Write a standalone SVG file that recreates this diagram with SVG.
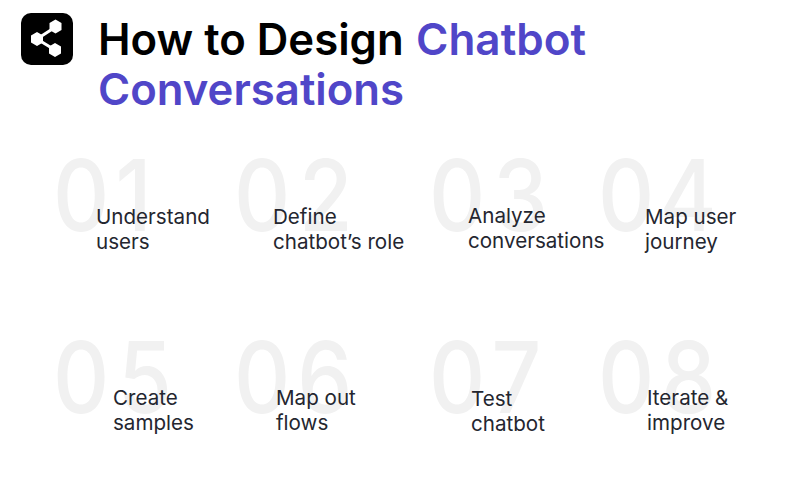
<svg xmlns="http://www.w3.org/2000/svg" width="800" height="484" viewBox="0 0 800 484">
<style>
.t{font-family:Inter,"Liberation Sans",sans-serif;font-size:43.7px;font-weight:600;fill:#000}
.p{fill:#5046c8}
.n{font-family:Inter,"Liberation Sans",sans-serif;font-size:99px;font-weight:500;fill:#f1f1f1}
.l{font-family:Inter,"Liberation Sans",sans-serif;font-size:20.6px;font-weight:400;fill:#24262f}
</style>
<rect width="800" height="484" fill="#fff"/>
<g id="logo">
<rect x="21" y="13" width="52" height="52" rx="10" fill="#000"/>
<path d="M55.500 27L37 39L55 50" fill="none" stroke="#fff" stroke-width="3"/>
<path d="M55.500 19.500L61.500 23L61.500 30L55.500 33.500L49.500 30L49.500 23Z M37 32L43 35.500L43 42.500L37 46L31 42.500L31 35.500Z M55 43L61 46.500L61 53.500L55 57L49 53.500L49 46.500Z" fill="#fff"/>
</g>
<text class="t" x="98" y="55">How to Design</text>
<text class="t p" x="416" y="55" style="font-size:44px">Chatbot</text>
<text class="t p" x="98" y="105">Conversations</text>
<g id="node1"><text class="n" transform="translate(53 230.500) scale(.88 1)" x="0 71">01</text><text class="l" x="96" y="224">Understand</text><text class="l" x="96" y="249">users</text></g>
<g id="node2"><text class="n" transform="translate(234 230.500) scale(.88 1)" x="0 74">02</text><text class="l" x="273" y="224">Define</text><text class="l" x="273" y="249">chatbot’s role</text></g>
<g id="node3"><text class="n" transform="translate(429 230.500) scale(.88 1)" x="0 73">03</text><text class="l" x="468" y="223">Analyze</text><text class="l" x="468" y="248">conversations</text></g>
<g id="node4"><text class="n" transform="translate(598 230.500) scale(.88 1)" x="0 70">04</text><text class="l" x="645" y="224">Map user</text><text class="l" x="645" y="249">journey</text></g>
<g id="node5"><text class="n" transform="translate(53 412.500) scale(.88 1)" x="0 74">05</text><text class="l" x="113" y="405">Create</text><text class="l" x="113" y="430">samples</text></g>
<g id="node6"><text class="n" transform="translate(234 412.500) scale(.88 1)" x="0 72">06</text><text class="l" x="276" y="405">Map out</text><text class="l" x="276" y="430">flows</text></g>
<g id="node7"><text class="n" transform="translate(429 412.500) scale(.88 1)" x="0 71">07</text><text class="l" x="471" y="406">Test</text><text class="l" x="471" y="431">chatbot</text></g>
<g id="node8"><text class="n" transform="translate(598 412.500) scale(.88 1)" x="0 72">08</text><text class="l" x="647" y="405">Iterate &amp;</text><text class="l" x="647" y="430">improve</text></g>
</svg>
